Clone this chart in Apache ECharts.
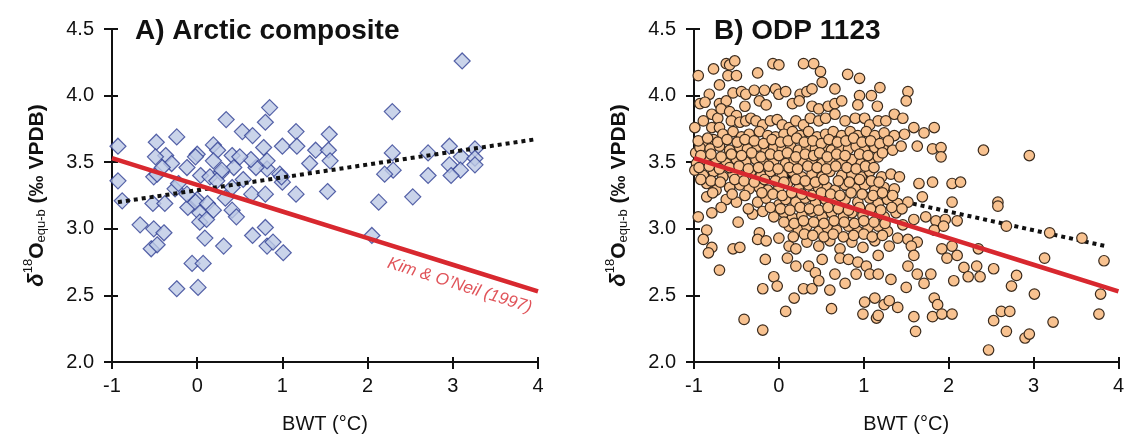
<!DOCTYPE html>
<html><head><meta charset="utf-8">
<script src="https://cdn.jsdelivr.net/npm/echarts@6/dist/echarts.min.js"></script>
<style>html,body{margin:0;padding:0;background:#fff}#c{width:1127px;height:439px}</style>
</head><body><div id="c"></div>
<script>
// ---------- DATA ----------
const xTicks = [-1, 0, 1, 2, 3, 4];
const yTicks = [2.0, 2.5, 3.0, 3.5, 4.0, 4.5];
const panelTitles = ['A) Arctic composite', 'B) ODP 1123'];

// Panel A: Arctic composite [BWT, d18O]
const arcticPoints = [
[3.11,4.26],[0.85,3.91],[2.29,3.88],[0.34,3.82],[0.80,3.80],[0.53,3.73],[0.65,3.70],[1.16,3.73],[1.55,3.71],[-0.24,3.69],
[-0.93,3.62],[-0.48,3.65],[0.19,3.63],[1.00,3.62],[1.17,3.62],[1.39,3.59],[1.54,3.59],[2.96,3.62],[3.26,3.60],[2.29,3.57],
[2.71,3.57],[1.56,3.51],[1.32,3.49],[3.10,3.54],[3.26,3.53],[2.96,3.48],[3.26,3.48],[3.09,3.44],[2.30,3.44],[2.20,3.41],
[2.71,3.40],[2.98,3.40],[2.13,3.20],[2.53,3.24],[2.05,2.95],[1.53,3.28],[1.16,3.26],[1.00,3.35],[0.97,3.41],[0.82,3.45],
[0.69,3.46],[0.63,3.52],[0.78,3.61],[0.82,3.51],[0.41,3.55],[0.50,3.54],[0.24,3.59],[0.00,3.56],[-0.02,3.54],[-0.12,3.46],
[-0.37,3.55],[-0.30,3.49],[-0.49,3.54],[-0.51,3.39],[-0.47,3.41],[-0.93,3.36],[-0.88,3.21],[-0.52,3.19],[-0.38,3.19],[-0.26,3.30],
[-0.22,3.34],[-0.11,3.16],[0.00,3.22],[0.04,3.40],[0.15,3.39],[0.28,3.42],[0.43,3.46],[0.41,3.31],[0.64,3.26],[0.80,3.26],
[0.54,3.37],[-0.02,3.20],[0.12,3.19],[0.19,3.14],[0.03,3.12],[0.03,3.05],[0.11,3.07],[0.41,3.14],[0.46,3.09],[0.33,3.23],
[-0.67,3.03],[-0.51,3.00],[-0.39,2.97],[-0.54,2.85],[-0.47,2.88],[0.09,2.93],[0.31,2.87],[0.65,2.95],[0.80,3.01],[0.82,2.87],
[0.89,2.90],[1.01,2.82],[-0.06,2.74],[0.07,2.74],[-0.24,2.55],[0.01,2.56],[0.19,3.51],[0.29,3.44],[0.23,3.36],[-0.12,3.26],
[-0.41,3.46],[0.99,3.39]
];

// Panel B: ODP 1123 [BWT, d18O]
const odpPoints = [
[-0.95,4.15],[-0.77,4.20],[-0.62,4.24],[-0.58,4.23],[-0.52,4.26],[-0.60,4.15],[-0.50,4.15],[-0.70,4.08],[-0.25,4.17],[-0.07,4.24],
[0.00,4.23],[0.29,4.24],[0.41,4.24],[0.49,4.18],[0.51,4.10],[0.81,4.16],[0.95,4.13],[0.66,4.05],[1.19,4.06],[1.09,4.00],
[0.95,4.00],[0.93,3.93],[1.16,3.92],[1.52,4.03],[1.50,3.96],
[-0.82,4.01],[-0.54,4.02],[-0.44,4.03],[-0.39,4.01],[-0.29,4.04],[-0.17,4.04],[-0.04,4.05],[0.00,4.01],[0.08,4.03],[0.25,4.01],
[0.33,4.03],[0.39,4.05],
[-0.93,3.94],[-0.87,3.95],[-0.70,3.94],[-0.62,3.96],[-0.40,3.92],[-0.23,3.96],[-0.15,3.93],[0.16,3.94],[0.24,3.96],[0.39,3.92],
[0.47,3.90],[0.58,3.92],[0.66,3.94],[0.74,3.96],
[-0.99,3.76],[-0.89,3.81],[-0.79,3.86],[-0.72,3.83],[-0.68,3.90],[-0.58,3.88],[-0.50,3.85],[-0.79,3.76],[-0.70,3.76],[-0.56,3.81],
[-0.46,3.80],[-0.39,3.81],[-0.33,3.83],[-0.27,3.81],[-0.19,3.78],[-0.10,3.81],[-0.02,3.82],[0.04,3.78],[0.12,3.76],[0.20,3.81],
[0.29,3.78],[0.37,3.83],[0.47,3.81],[0.55,3.83],[0.66,3.86],[0.78,3.81],[0.90,3.83],[1.01,3.83],[1.07,3.78],[1.17,3.81],
[1.26,3.81],[1.36,3.86],[1.46,3.83],[1.59,3.76],[1.71,3.72],[1.83,3.76],[1.63,3.62],[1.81,3.60],[1.91,3.61],[1.91,3.54],
[2.41,3.59],[2.95,3.55],
[-0.98,3.57],[-0.89,3.64],[-0.77,3.67],[-0.66,3.71],[-0.54,3.73],[-0.44,3.69],[-0.35,3.71],[-0.23,3.73],[-0.13,3.70],[-0.04,3.69],
[0.06,3.71],[0.16,3.73],[0.25,3.70],[0.35,3.73],[0.45,3.69],[0.55,3.71],[0.64,3.73],[0.74,3.70],[0.84,3.73],[0.93,3.70],
[1.03,3.73],[1.13,3.70],[1.24,3.72],[1.36,3.70],[1.48,3.71],
[-0.93,3.61],[-0.81,3.60],[-0.70,3.62],[-0.58,3.59],[-0.46,3.61],[-0.37,3.60],[-0.25,3.62],[-0.15,3.59],[-0.06,3.61],[0.04,3.60],
[0.14,3.62],[0.23,3.59],[0.33,3.61],[0.43,3.60],[0.53,3.62],[0.62,3.59],[0.72,3.61],[0.82,3.60],[0.91,3.62],[1.01,3.59],
[1.13,3.61],[1.23,3.60],[1.34,3.59],[1.44,3.62],
[-0.97,3.49],[-0.87,3.52],[-0.74,3.51],[-0.62,3.49],[-0.50,3.52],[-0.39,3.50],[-0.27,3.52],[-0.17,3.49],[-0.06,3.51],[0.08,3.49],
[0.18,3.52],[0.29,3.50],[0.39,3.52],[0.51,3.49],[0.60,3.51],[0.74,3.50],[0.86,3.52],[0.97,3.49],[1.07,3.51],[1.17,3.54],
[-0.99,3.44],[-0.89,3.40],[-0.77,3.43],[-0.66,3.39],[-0.54,3.41],[-0.43,3.39],[-0.33,3.43],[-0.21,3.40],[-0.10,3.43],[0.04,3.40],
[0.16,3.43],[0.27,3.39],[0.39,3.41],[0.51,3.39],[0.60,3.43],[0.74,3.40],[0.86,3.41],[0.97,3.39],[1.07,3.43],[1.21,3.39],
[1.32,3.41],[1.42,3.39],[1.65,3.34],[1.81,3.35],[2.04,3.34],[2.14,3.35],[1.69,3.24],[2.04,3.20],[2.58,3.20],[2.58,3.17],
[-0.85,3.34],[-0.74,3.29],[-0.58,3.31],[-0.46,3.33],[-0.35,3.30],[-0.23,3.31],[-0.13,3.29],[0.00,3.31],[0.10,3.34],[0.23,3.30],
[0.35,3.33],[0.47,3.30],[0.57,3.31],[0.66,3.29],[0.78,3.33],[0.90,3.30],[1.01,3.33],[1.13,3.29],[1.24,3.31],[1.36,3.30],
[-0.85,3.24],[-0.62,3.22],[-0.50,3.20],[-0.25,3.20],[-0.15,3.23],[0.00,3.18],[0.08,3.22],[0.20,3.20],[0.31,3.23],[0.43,3.19],
[0.55,3.22],[0.66,3.20],[0.78,3.22],[0.93,3.20],[1.07,3.23],[1.17,3.19],[1.28,3.22],[1.40,3.19],[1.52,3.20],
[-0.79,3.12],[-0.48,3.05],[-0.31,3.11],[-0.19,3.13],[-0.06,3.09],[0.06,3.12],[0.16,3.08],[0.27,3.10],[0.39,3.13],[0.51,3.09],
[0.62,3.12],[0.76,3.09],[0.86,3.12],[0.99,3.10],[1.13,3.13],[1.24,3.09],[1.38,3.12],[1.59,3.07],[1.73,3.09],[1.85,3.06],
[1.96,3.07],[2.10,3.06],
[-0.95,3.09],[-0.85,2.99],[-0.23,2.97],[0.00,2.93],[0.12,3.02],[0.23,2.99],[0.33,3.02],[0.47,2.98],[0.57,3.01],[0.68,2.99],
[0.82,3.02],[0.93,2.98],[1.05,3.01],[1.17,3.02],[1.28,2.98],[1.40,2.93],[1.52,2.92],[1.63,2.90],[1.83,2.99],[1.94,3.02],
[2.68,3.02],[3.19,2.97],[3.57,2.93],
[-0.89,2.92],[-0.79,2.86],[-0.83,2.82],[-0.54,2.85],[-0.46,2.86],[-0.25,2.92],[-0.15,2.91],[0.12,2.87],[0.20,2.85],[0.33,2.90],
[0.47,2.87],[0.60,2.91],[0.72,2.85],[0.86,2.90],[0.99,2.86],[1.13,2.91],[1.30,2.87],[1.56,2.87],[1.59,2.80],[1.92,2.85],
[2.04,2.87],[2.35,2.85],
[-0.70,2.69],[-0.16,2.77],[0.10,2.78],[0.20,2.72],[0.35,2.72],[0.43,2.67],[0.51,2.77],[0.72,2.78],[0.82,2.77],[0.93,2.75],
[1.03,2.72],[1.17,2.80],[1.52,2.72],[1.63,2.66],[1.79,2.66],[1.98,2.78],[2.10,2.80],[2.18,2.71],[2.23,2.64],[2.33,2.72],
[2.53,2.70],[2.37,2.64],[2.80,2.65],[3.13,2.78],[3.83,2.76],
[-0.06,2.64],[-0.02,2.57],[-0.19,2.55],[0.29,2.55],[0.39,2.55],[0.47,2.61],[0.60,2.54],[0.66,2.66],[0.78,2.59],[0.91,2.66],
[1.07,2.66],[1.17,2.66],[1.32,2.62],[1.50,2.56],[1.71,2.59],[2.06,2.61],[2.74,2.57],[3.01,2.51],[3.79,2.51],
[0.18,2.48],[0.62,2.40],[0.08,2.38],[-0.41,2.32],[-0.19,2.24],[1.01,2.45],[1.13,2.48],[1.24,2.43],[1.30,2.46],[1.40,2.41],
[0.99,2.36],[1.15,2.33],[1.17,2.35],[1.59,2.34],[1.61,2.23],[1.83,2.48],[1.87,2.43],[1.81,2.34],[1.92,2.36],[2.04,2.36],
[2.53,2.31],[2.62,2.38],[2.72,2.38],[2.68,2.23],[2.90,2.18],[2.95,2.21],[2.47,2.09],[3.23,2.30],[3.77,2.36],
[-0.95,3.66],[-0.84,3.68],[-0.72,3.65],[-0.61,3.67],[-0.49,3.65],[-0.40,3.67],[-0.29,3.66],[-0.18,3.64],[-0.08,3.67],[0.02,3.65],
[0.11,3.66],[0.21,3.68],[0.30,3.65],[0.40,3.66],[0.50,3.64],[0.59,3.67],[0.69,3.65],[0.79,3.66],[0.88,3.68],[0.98,3.65],
[1.08,3.66],[1.19,3.64],[1.29,3.66],
[-0.92,3.55],[-0.80,3.56],[-0.68,3.54],[-0.56,3.56],[-0.44,3.55],[-0.32,3.57],[-0.21,3.54],[-0.10,3.56],[0.00,3.55],[0.10,3.57],
[0.20,3.54],[0.31,3.56],[0.41,3.55],[0.48,3.57],[0.57,3.54],[0.68,3.56],[0.78,3.55],[0.95,3.56],[1.05,3.55],[1.22,3.57],
[-0.94,3.46],[-0.82,3.47],[-0.70,3.45],[-0.58,3.46],[-0.47,3.47],[-0.36,3.45],[-0.24,3.46],[-0.12,3.47],[-0.01,3.45],[0.12,3.46],
[0.22,3.45],[0.34,3.47],[0.45,3.46],[0.56,3.45],[0.67,3.47],[0.80,3.46],[0.91,3.45],[1.02,3.47],[1.12,3.46],
[-0.92,3.37],[-0.80,3.36],[-0.69,3.35],[-0.52,3.37],[-0.41,3.36],[-0.29,3.35],[-0.17,3.37],[-0.04,3.36],[0.06,3.35],[0.20,3.37],
[0.31,3.36],[0.43,3.35],[0.53,3.37],[0.70,3.36],[0.83,3.35],[0.95,3.37],[1.09,3.36],[1.18,3.35],
[-0.78,3.27],[-0.55,3.26],[-0.40,3.25],[-0.20,3.27],[-0.07,3.26],[0.04,3.25],[0.15,3.27],[0.27,3.26],[0.39,3.25],[0.50,3.27],
[0.61,3.26],[0.72,3.25],[0.85,3.27],[0.98,3.26],[1.11,3.25],[1.22,3.27],[1.34,3.25],
[-0.68,3.16],[-0.36,3.15],[-0.10,3.16],[0.02,3.15],[0.13,3.14],[0.25,3.16],[0.36,3.15],[0.47,3.14],[0.58,3.16],[0.70,3.15],
[0.82,3.14],[0.95,3.16],[1.08,3.15],[1.20,3.14],[1.33,3.16],[1.45,3.15],
[0.06,3.05],[0.18,3.04],[0.29,3.06],[0.41,3.05],[0.53,3.04],[0.65,3.06],[0.77,3.05],[0.89,3.04],[1.00,3.06],[1.12,3.05],
[1.25,3.04],[1.46,3.03],
[0.17,2.94],[0.30,2.96],[0.40,2.95],[0.53,2.94],[0.64,2.96],[0.76,2.94],[0.88,2.95],[1.00,2.96],[1.10,2.94],[1.22,2.95]
];

// Kim & O'Neil (1997) equilibrium line
const kimBWT  = [-1, 0, 1, 2, 3, 4];
const kimD18O = [3.53, 3.33, 3.13, 2.93, 2.73, 2.53];
// Regression lines (dotted)
const arcticFitBWT  = [-0.93, 3.95];
const arcticFitD18O = [3.20, 3.67];
const odpFitBWT  = [-1.0, 3.85];
const odpFitD18O = [3.55, 2.87];
const kimLabel = "Kim & O’Neil (1997)";

// ---------- CHART ----------
const FONT = '"Liberation Sans", Arial, Helvetica, sans-serif';
const zip = (a, b) => a.map((v, i) => [v, b[i]]);
const chart = echarts.init(document.getElementById('c'), null, {renderer: 'canvas'});

const grids = [
  {left: 112, width: 426, top: 29, height: 335},
  {left: 694, width: 429, top: 29, height: 335}
];

function xAxes(g) {
  return [
    {gridIndex: g, type: 'value', min: xTicks[0], max: xTicks[xTicks.length - 1], interval: 1,
     axisLine: {show: true, onZero: false, lineStyle: {color: '#111', width: 2}},
     axisTick: {show: true, inside: false, length: 7, lineStyle: {color: '#111', width: 2}},
     axisLabel: {color: '#111', fontSize: 20, fontFamily: FONT, margin: 14},
     splitLine: {show: false},
     name: 'BWT (°C)', nameLocation: 'middle', nameGap: 52,
     nameTextStyle: {color: '#111', fontSize: 20, fontFamily: FONT, fontWeight: 500}},
    {gridIndex: g, type: 'value', min: xTicks[0], max: xTicks[xTicks.length - 1], interval: 1,
     axisLine: {show: false, onZero: false},
     axisTick: {show: true, inside: true, length: 5, lineStyle: {color: '#111', width: 2}},
     axisLabel: {show: false}, splitLine: {show: false}, position: 'bottom'}
  ];
}
const yName = '{d|δ}{sup|18}{b|O}{sub|equ-b}{b| (‰ VPDB)}';
function yAxes(g) {
  return [
    {gridIndex: g, type: 'value', min: yTicks[0], max: yTicks[yTicks.length - 1], interval: 0.5,
     axisLine: {show: true, onZero: false, lineStyle: {color: '#111', width: 2}},
     axisTick: {show: true, inside: false, length: 8, lineStyle: {color: '#111', width: 2}},
     axisLabel: {color: '#111', fontSize: 20, fontFamily: FONT, margin: 18, formatter: v => v.toFixed(1)},
     splitLine: {show: false},
     name: yName, nameLocation: 'middle', nameGap: 64, nameRotate: 90,
     nameTextStyle: {
       color: '#111', fontFamily: FONT, fontWeight: 'bold', fontSize: 21,
       rich: {
         d: {fontSize: 22, fontStyle: 'italic', fontWeight: 'bold', fontFamily: FONT, color: '#111', lineHeight: 28, verticalAlign: 'bottom'},
         b: {fontSize: 21, fontWeight: 'bold', fontFamily: FONT, color: '#111', lineHeight: 28, verticalAlign: 'bottom'},
         sup: {fontSize: 13, fontWeight: 'normal', fontFamily: FONT, color: '#111', lineHeight: 28, verticalAlign: 'top', padding: [2, 0, 0, 0]},
         sub: {fontSize: 13, fontWeight: 'normal', fontFamily: FONT, color: '#111', lineHeight: 28, verticalAlign: 'bottom', padding: [0, 0, 0, 0]}
       }
     }},
    {gridIndex: g, type: 'value', min: yTicks[0], max: yTicks[yTicks.length - 1], interval: 0.5,
     axisLine: {show: false, onZero: false},
     axisTick: {show: true, inside: true, length: 6, lineStyle: {color: '#111', width: 2}},
     axisLabel: {show: false}, splitLine: {show: false}, position: 'left'}
  ];
}

const option = {
  animation: false,
  backgroundColor: '#fff',
  title: [
    {text: panelTitles[0], left: 130, top: 12, textStyle: {fontFamily: FONT, fontSize: 28, fontWeight: 'bold', color: '#111'}},
    {text: panelTitles[1], left: 709, top: 12, textStyle: {fontFamily: FONT, fontSize: 28, fontWeight: 'bold', color: '#111'}}
  ],
  grid: grids,
  xAxis: [...xAxes(0), ...xAxes(1)],
  yAxis: [...yAxes(0), ...yAxes(1)],
  series: [
    {type: 'scatter', xAxisIndex: 0, yAxisIndex: 0, data: arcticPoints, symbol: 'diamond', symbolSize: 16,
     itemStyle: {color: '#bdc9e5', borderColor: '#2f3e94', borderWidth: 1.2}, z: 2},
    {type: 'line', xAxisIndex: 0, yAxisIndex: 0, data: zip(arcticFitBWT, arcticFitD18O), symbol: 'none',
     lineStyle: {color: '#111', width: 4, type: [4, 4], cap: 'butt'}, z: 3},
    {type: 'line', xAxisIndex: 0, yAxisIndex: 0, data: zip(kimBWT, kimD18O), symbol: 'none',
     lineStyle: {color: '#d8282f', width: 4.5}, z: 4},
    {type: 'scatter', xAxisIndex: 0, yAxisIndex: 0, data: [[3.08, 2.575]], symbolSize: 0, silent: true, z: 5,
     label: {show: true, position: 'inside', formatter: kimLabel, rotate: -17.6, color: '#d8282f',
             fontFamily: FONT, fontStyle: 'italic', fontSize: 17}},
    {type: 'line', xAxisIndex: 2, yAxisIndex: 2, data: zip(odpFitBWT, odpFitD18O), symbol: 'none',
     lineStyle: {color: '#111', width: 4, type: [4, 4], cap: 'butt'}, z: 2},
    {type: 'scatter', xAxisIndex: 2, yAxisIndex: 2, data: odpPoints, symbol: 'circle', symbolSize: 10.5,
     itemStyle: {color: '#f8c290', borderColor: '#3a2a1c', borderWidth: 1.2, opacity: 1}, z: 3},
    {type: 'line', xAxisIndex: 2, yAxisIndex: 2, data: zip(kimBWT, kimD18O), symbol: 'none',
     lineStyle: {color: '#d8282f', width: 4.5}, z: 4}
  ]
};
chart.setOption(option);
</script></body></html>
